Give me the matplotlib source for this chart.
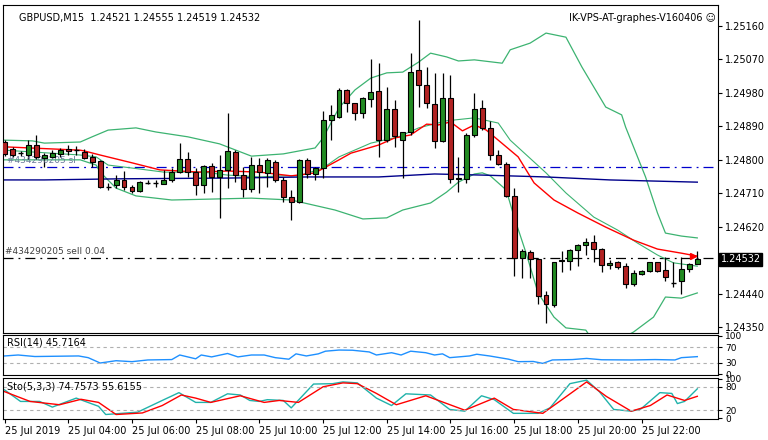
import matplotlib
matplotlib.use("Agg")
import matplotlib.pyplot as plt
import numpy as np

# ---------------- data ----------------
opens = [1.24848,1.24829,1.24818,1.24813,1.24840,1.24805,1.24808,1.24816,1.24829,1.24826,
         1.24821,1.24808,1.24797,1.24727,1.24732,1.24746,1.24727,1.24716,1.24738,1.24738,
         1.24735,1.24746,1.24767,1.24802,1.24767,1.24732,1.24783,1.24754,1.24773,1.24821,
         1.24759,1.24722,1.24786,1.24765,1.24794,1.24746,1.24700,1.24687,1.24800,1.24762,
         1.24778,1.24907,1.24915,1.24988,1.24953,1.24926,1.24964,1.24985,1.24853,1.24937,
         1.24853,1.24875,1.25042,1.25001,1.24950,1.24851,1.24966,1.24749,1.24749,1.24867,
         1.24940,1.24886,1.24813,1.24789,1.24703,1.24536,1.24552,1.24533,1.24436,1.24410,
         1.24528,1.24528,1.24558,1.24571,1.24579,1.24560,1.24517,1.24525,1.24514,1.24466,
         1.24493,1.24501,1.24525,1.24504,1.24469,1.24474,1.24506,1.24521]
highs = [1.24853,1.24835,1.24824,1.24853,1.24867,1.24818,1.24826,1.24832,1.24840,1.24837,
         1.24829,1.24816,1.24800,1.24738,1.24759,1.24770,1.24732,1.24743,1.24746,1.24746,
         1.24773,1.24778,1.24845,1.24821,1.24778,1.24786,1.24792,1.24813,1.24926,1.24826,
         1.24781,1.24808,1.24805,1.24805,1.24800,1.24754,1.24719,1.24802,1.24805,1.24781,
         1.24931,1.24948,1.24993,1.24991,1.24953,1.24969,1.25071,1.25060,1.24996,1.24961,
         1.24875,1.25087,1.25176,1.25050,1.25034,1.25034,1.25028,1.24808,1.24872,1.24980,
         1.24961,1.24905,1.24826,1.24794,1.24724,1.24560,1.24558,1.24536,1.24447,1.24525,
         1.24555,1.24560,1.24574,1.24590,1.24598,1.24563,1.24531,1.24528,1.24523,1.24504,
         1.24504,1.24525,1.24525,1.24539,1.24525,1.24539,1.24523,1.24555]
lows = [1.24810,1.24808,1.24810,1.24802,1.24802,1.24781,1.24805,1.24808,1.24813,1.24813,
        1.24802,1.24781,1.24724,1.24719,1.24724,1.24719,1.24711,1.24713,1.24735,1.24727,
        1.24735,1.24740,1.24765,1.24754,1.24705,1.24711,1.24713,1.24644,1.24724,1.24740,
        1.24700,1.24713,1.24711,1.24727,1.24740,1.24687,1.24638,1.24684,1.24751,1.24746,
        1.24751,1.24853,1.24913,1.24929,1.24907,1.24913,1.24942,1.24808,1.24848,1.24835,
        1.24751,1.24867,1.24942,1.24940,1.24832,1.24848,1.24738,1.24713,1.24738,1.24862,
        1.24880,1.24800,1.24786,1.24700,1.24488,1.24482,1.24482,1.24412,1.24361,1.24404,
        1.24498,1.24504,1.24514,1.24544,1.24525,1.24498,1.24506,1.24506,1.24455,1.24461,
        1.24490,1.24498,1.24498,1.24474,1.24458,1.24439,1.24498,1.24519]
closes = [1.24816,1.24813,1.24818,1.24840,1.24808,1.24813,1.24818,1.24826,1.24824,1.24826,
          1.24805,1.24794,1.24727,1.24727,1.24746,1.24727,1.24716,1.24740,1.24738,1.24738,
          1.24746,1.24767,1.24802,1.24767,1.24732,1.24783,1.24754,1.24773,1.24824,1.24759,
          1.24722,1.24786,1.24767,1.24800,1.24746,1.24700,1.24687,1.24800,1.24762,1.24778,
          1.24907,1.24921,1.24988,1.24953,1.24926,1.24966,1.24982,1.24853,1.24937,1.24864,
          1.24875,1.25036,1.25001,1.24953,1.24851,1.24966,1.24749,1.24751,1.24867,1.24937,
          1.24886,1.24813,1.24789,1.24703,1.24536,1.24555,1.24533,1.24434,1.24412,1.24525,
          1.24531,1.24558,1.24571,1.24579,1.24560,1.24517,1.24523,1.24512,1.24466,1.24496,
          1.24501,1.24525,1.24501,1.24485,1.24469,1.24506,1.24520,1.24532]

bb_up_x = [0,3.5,5,9.5,11,13,16.5,19,23,27,31,35,39,40,42,44,46,48,50,52,53.5,55.5,57,59,62.5,63.5,66,68,70.5,72.5,75.5,77.5,78,80.5,82,83,85,87]
bb_up_y = [1.24853,1.24851,1.24845,1.24848,1.24862,1.24880,1.24886,1.24875,1.24862,1.24843,1.24810,1.24816,1.24832,1.24859,
           1.24940,1.24988,1.25020,1.25034,1.25036,1.25063,1.25087,1.25077,1.25066,1.25069,1.25060,1.25096,1.25114,1.25141,
           1.25130,1.25050,1.24942,1.24921,1.24888,1.24754,1.24657,1.24603,1.24595,1.24590]
bb_lo_x = [0,9.5,11.5,12,14,16.5,21,27,31,36,41.5,45,48,50,53.5,55.5,57,59,60,61,63,64,65.5,67,69,70.5,73,74,76,79,81.5,83,85,87]
bb_lo_y = [1.24800,1.24800,1.24786,1.24767,1.24724,1.24703,1.24692,1.24695,1.24697,1.24692,1.24665,1.24641,1.24644,1.24665,
           1.24684,1.24713,1.24740,1.24762,1.24765,1.24757,1.24719,1.24646,1.24549,1.24442,1.24377,1.24348,1.24342,1.24310,
           1.24302,1.24337,1.24377,1.24431,1.24428,1.24442]
bb_mid_x = [0,9.5,11.5,13,16,20,25,28,32,35,37,40,42,46,49.5,52,55.5,59,62,63.5,68,70.5,74,77,79.5,82,84,87]
bb_mid_y = [1.24826,1.24813,1.24808,1.24786,1.24778,1.24767,1.24767,1.24759,1.24754,1.24757,1.24757,1.24778,1.24808,1.24845,
            1.24862,1.24886,1.24905,1.24913,1.24899,1.24853,1.24765,1.24711,1.24646,1.24611,1.24576,1.24544,1.24523,1.24514]
ma_red_x = [0,9.5,10,12,16,19.5,24.5,28,32,36,38,39,42,43.5,47,49,51,53,54.5,56,57.5,59,60.5,62,64.5,66.5,69,72,75.5,79,82,85,87]
ma_red_y = [1.24835,1.24826,1.24824,1.24813,1.24792,1.24773,1.24767,1.24770,1.24767,1.24757,1.24762,1.24765,1.24800,1.24818,
            1.24840,1.24859,1.24867,1.24896,1.24894,1.24902,1.24878,1.24894,1.24880,1.24853,1.24808,1.24738,1.24692,1.24657,
            1.24619,1.24584,1.24560,1.24549,1.24541]
ma_blue_x = [0,5,14.5,28,38,47,54,60,68,76,87]
ma_blue_y = [1.24746,1.24746,1.24749,1.24751,1.24754,1.24754,1.24762,1.24759,1.24754,1.24746,1.24740]
sl_level = 1.24781
sell_level = 1.24536

rsi_x = [0,1.7,3.8,9.3,10.5,12,14,16,18,21,22,24,24.7,26,28,29.3,31,32.6,34,35.7,36.6,37.9,39.4,40.3,42,43.7,45.8,46.7,48.6,49.8,
         51,52.9,54,55,55.9,58.4,59.3,60.9,63.3,64.5,66.4,67.6,68.8,71.3,73.1,75,78.7,81.7,84.2,85,87]
rsi_y = [47.5,50,46,47.5,43,29,35,32.5,37,38,50,40,50,45,54,45,50,50,43,39,53,47.5,53,60,63,62.5,58,50,56,50,
         60,56,50,53,43,47.5,52,47.5,39,32.5,33,28,37,38,41,37.5,37,38,37,43,45.7]
stk_x = [0,2,4.4,6,9,11.8,12.7,16.7,19.8,21.9,24,25.9,28,29.6,30.8,32,33,35,36,38.8,41.2,42.5,44.3,46.7,48.6,50.4,53.5,55.9,57.8,
         59.9,61.5,63.9,67,68.5,71,73.1,74.7,76.5,78.7,79.9,82.3,83.8,84.5,85.4,87]
stk_y = [72,42.5,42.5,28,51,30,9,15,45,65,40,40,62,59,45,42.5,47,45,26,87,88,92.5,90,51,32,62,59,22,17.5,
         57,47,12,12,26,88,97,67.5,22,17.5,23,65,63,37,42.5,74.76]
std_x = [0,3.2,6.9,9.6,11.8,14,17.3,19.8,22.2,24,25.9,29.6,32.6,34.5,36.9,40,42.5,44.3,46.7,49.2,52.9,57.8,61.5,63.9,67.6,70,
         73.1,75.6,78.7,81.1,83.2,85.4,87]
std_y = [67.5,42.5,34,48,40,9,13,32,59,51,40,57,40,45,40,80,90,88,63,34,57,20,51,22,12,47,92.5,55,17.5,32,59,45,55.6]

time_labels = ["25 Jul 2019","25 Jul 04:00","25 Jul 06:00","25 Jul 08:00","25 Jul 10:00","25 Jul 12:00",
               "25 Jul 14:00","25 Jul 16:00","25 Jul 18:00","25 Jul 20:00","25 Jul 22:00"]
price_ticks = [1.24350,1.24440,1.24620,1.24710,1.24800,1.24890,1.24980,1.25070,1.25160]

# ---------------- figure ----------------
W, H = 768, 440
fig = plt.figure(figsize=(W/100, H/100), dpi=100, facecolor="white")
def ax_px(x0, y0, x1, y1):
    return fig.add_axes([x0/W, 1-y1/H, (x1-x0)/W, (y1-y0)/H])

ax = ax_px(3, 5, 718, 333)
axr = ax_px(3, 335, 718, 375)
axs = ax_px(3, 378, 718, 419)
XL = (-0.2, 89.6)
for a in (ax, axr, axs):
    a.set_facecolor("white")
    a.set_xlim(*XL)
    for s in a.spines.values():
        s.set_color("black"); s.set_linewidth(0.8)
    a.yaxis.tick_right()
    a.tick_params(axis="y", labelsize=7, length=3, pad=2, colors="black")
    a.tick_params(axis="x", length=0, labelbottom=False)

FS = 7
n = len(opens)
for i in range(n):
    o, h, l, c = opens[i], highs[i], lows[i], closes[i]
    ax.vlines(i, l, h, color="black", lw=0.9, zorder=3)
    if abs(c - o) < 1e-6:
        ax.hlines(o, i-0.32, i+0.32, color="black", lw=1.0, zorder=4)
    else:
        col = "#228B22" if c > o else "#B22222"
        ax.bar(i, abs(c-o), bottom=min(o, c), width=0.62, color=col, edgecolor="black", lw=0.8, zorder=4)

gcol = "#3CB371"
ax.plot(bb_up_x, bb_up_y, color=gcol, lw=0.9, zorder=2)
ax.plot(bb_lo_x, bb_lo_y, color=gcol, lw=0.9, zorder=2)
ax.plot(bb_mid_x, bb_mid_y, color=gcol, lw=0.8, zorder=2)
ax.plot(ma_red_x, ma_red_y, color="red", lw=1.0, zorder=2)
ax.plot(ma_blue_x, ma_blue_y, color="#00008B", lw=1.0, zorder=2)
ax.axhline(sl_level, color="#0000CD", lw=0.9, dashes=(8, 4, 1.5, 4), zorder=1)
ax.axhline(sell_level, color="black", lw=0.9, dashes=(8, 4, 1.5, 4), zorder=1)
ax.plot([87 - 0.6], [ma_red_y[-1]], marker=">", color="red", ms=4, zorder=5)

ylo = 1.25230 - 0.0000269*333
yhi = 1.25230 - 0.0000269*5
ax.set_ylim(ylo, yhi)
ax.set_yticks(price_ticks)
ax.set_yticklabels([f"{v:.5f}" for v in price_ticks])

ax.text(16/715, 1-8/328, "GBPUSD,M15  1.24521 1.24555 1.24519 1.24532", transform=ax.transAxes,
        fontsize=FS, va="top", ha="left")
ax.text(1-2/715, 1-8/328, "IK-VPS-AT-graphes-V160406 \u263A", transform=ax.transAxes,
        fontsize=FS, va="top", ha="right")
ax.text(0.3, sl_level + 0.00018, "#434290205 sl", fontsize=FS-0.5, color="#6A7B9A", ha="left", va="center")
ax.text(0.0, sell_level + 0.00018, "#434290205 sell 0.04", fontsize=FS-0.5, color="#404040", ha="left", va="center")
ax.text(1.004, (closes[-1]-ylo)/(yhi-ylo), f"{closes[-1]:.5f}", transform=ax.transAxes, fontsize=7,
        color="white", va="center", ha="left",
        bbox=dict(boxstyle="square,pad=0.15", fc="black", ec="black"), clip_on=False)

axr.plot(rsi_x, rsi_y, color="#1E90FF", lw=1.0)
for lv in (70, 30):
    axr.axhline(lv, color="#B0B0B0", lw=0.8, ls=(0, (3, 3)))
axr.set_ylim(-2.5, 102.5)
axr.set_yticks([100, 70, 30, 0])
axr.set_yticklabels(["100", "70", "30", "0"], fontsize=6.5)
axr.text(4/715, 0.82, "RSI(14) 45.7164", transform=axr.transAxes, fontsize=FS, va="center", ha="left")

axs.plot(stk_x, stk_y, color="#20B2AA", lw=1.0)
axs.plot(std_x, std_y, color="red", lw=1.0)
for lv in (80, 20):
    axs.axhline(lv, color="#B0B0B0", lw=0.8, ls=(0, (3, 3)))
axs.set_ylim(-2.5, 102.5)
axs.set_yticks([100, 80, 20, 0])
axs.set_yticklabels(["100", "80", "20", "0"], fontsize=6.5)
axs.text(4/715, 0.80, "Sto(5,3,3) 74.7573 55.6155", transform=axs.transAxes, fontsize=FS, va="center", ha="left")

tick_pos = [8*k for k in range(len(time_labels))]
axs.set_xticks(tick_pos)
axs.tick_params(axis="x", length=3, direction="out", labelbottom=True, labelsize=FS, pad=2)
axs.set_xticklabels(time_labels, ha="left")

fig.savefig("out.png", dpi=100, facecolor="white")
